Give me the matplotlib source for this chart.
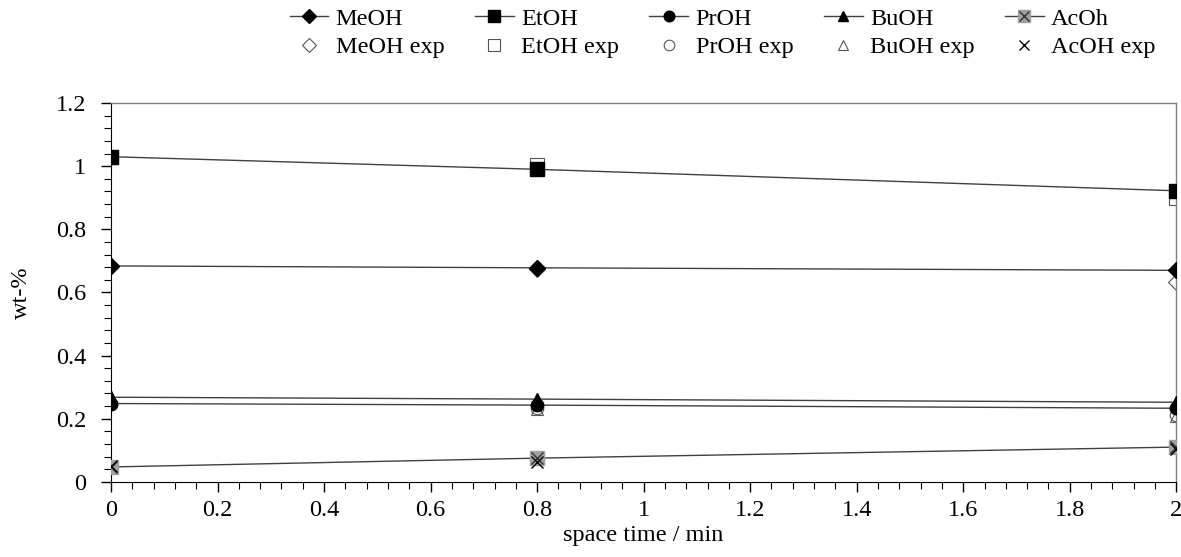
import numpy as np
from matplotlib import pyplot as plt
from matplotlib.ticker import MultipleLocator
from matplotlib.legend_handler import HandlerTuple

plt.rcParams['font.family'] = ['Liberation Serif', 'DejaVu Serif']
plt.rcParams['font.size'] = 17.5

# space time / min
t = [0, 0.8, 2]

# simulated
meoh_sim = [0.684, 0.678, 0.670]
etoh_sim = [1.030, 0.990, 0.922]
proh_sim = [0.248, 0.243, 0.233]
buoh_sim = [0.268, 0.262, 0.252]
acoh_sim = [0.047, 0.075, 0.110]

# experimental
meoh_exp = [0.684, 0.675, 0.632]
etoh_exp = [1.030, 1.005, 0.900]
proh_exp = [0.248, 0.235, 0.212]
buoh_exp = [0.268, 0.230, 0.210]
acoh_exp = [0.050, 0.063, 0.105]

fig = plt.figure(figsize=(11.81, 5.57), dpi=100)
ax = fig.add_axes([0.094, 0.135, 0.902, 0.68])

lc = '#404040'
lw = 1.0
h_me, = ax.plot(t, meoh_sim, '-', color=lc, lw=lw, marker='D', ms=8, mfc='k', mec='k', zorder=3)
h_et, = ax.plot(t, etoh_sim, '-', color=lc, lw=lw, marker='s', ms=10, mfc='k', mec='k', zorder=3)
h_pr, = ax.plot(t, proh_sim, '-', color=lc, lw=lw, marker='o', ms=9, mfc='k', mec='k', zorder=3)
h_bu, = ax.plot(t, buoh_sim, '-', color=lc, lw=lw, marker='^', ms=9, mfc='k', mec='k', zorder=3)
h_ac1, = ax.plot(t, acoh_sim, '-', color=lc, lw=lw, marker='s', ms=10, mfc='#a0a0a0', mec='#a0a0a0', zorder=3)
h_ac2, = ax.plot(t, acoh_sim, 'x', color='#333333', ms=9, mew=1.0, zorder=4)

mk = dict(ls='none', mfc='none', mec='#555555', mew=0.8, zorder=2)
e_me, = ax.plot(t, meoh_exp, marker='D', ms=8, **mk)
e_et, = ax.plot(t, etoh_exp, marker='s', ms=10, **mk)
e_pr, = ax.plot(t, proh_exp, marker='o', ms=9, **mk)
e_bu, = ax.plot(t, buoh_exp, marker='^', ms=9, **mk)
e_ac, = ax.plot(t, acoh_exp, ls='none', marker='x', ms=9, mec='k', mew=1.0, zorder=5)

ax.set_xlim(0, 2)
ax.set_ylim(0, 1.2)
ax.xaxis.set_major_locator(MultipleLocator(0.2))
ax.xaxis.set_minor_locator(MultipleLocator(0.04))
ax.yaxis.set_major_locator(MultipleLocator(0.2))
ax.yaxis.set_minor_locator(MultipleLocator(0.04))
ax.xaxis.set_major_formatter(plt.FuncFormatter(lambda v, p: f'{v:g}'))
ax.yaxis.set_major_formatter(plt.FuncFormatter(lambda v, p: f'{v:g}'))
ax.tick_params(which='major', direction='out', length=7, width=1.0)
ax.tick_params(which='minor', direction='out', length=5, width=0.8)
ax.tick_params(axis='x', which='major', pad=6)
ax.tick_params(axis='y', which='major', pad=11)
for s in ['top', 'right']:
    ax.spines[s].set_color('#808080')
    ax.spines[s].set_linewidth(1.0)

ax.set_xlabel('space time / min', labelpad=3)
ax.set_ylabel('wt-%', labelpad=17)

handles = [h_me, e_me, h_et, e_et, h_pr, e_pr, h_bu, e_bu, (h_ac1, h_ac2), e_ac]
labels = ['MeOH', 'MeOH exp', 'EtOH', 'EtOH exp', 'PrOH', 'PrOH exp',
          'BuOH', 'BuOH exp', 'AcOh', 'AcOH exp']
fig.legend(handles, labels, ncol=5, loc='upper right', bbox_to_anchor=(0.997, 1.025),
           frameon=False, handlelength=1.6, handletextpad=0.3, columnspacing=1.25,
           labelspacing=0.25, markerscale=0.85,
           handler_map={tuple: HandlerTuple(ndivide=1, pad=0)})

fig.savefig('out.png', dpi=100)
